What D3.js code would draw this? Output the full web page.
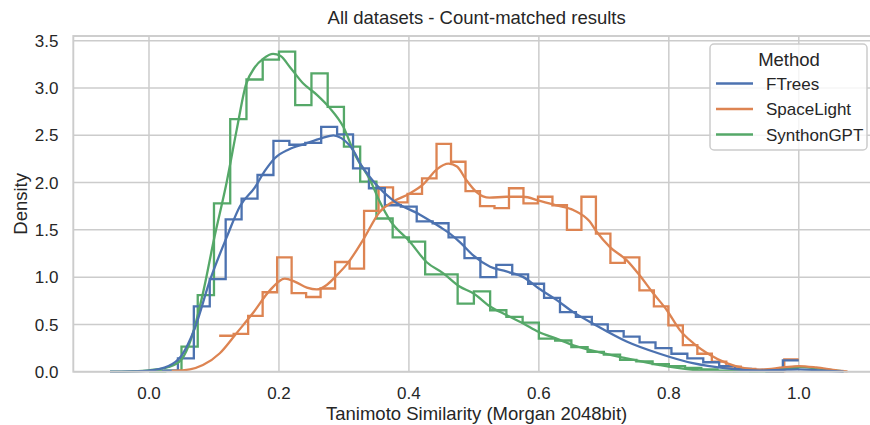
<!DOCTYPE html>
<meta charset="utf-8">
<style>
  body { margin: 0; background: #fff; }
  text { font-family: "Liberation Sans", Arial, sans-serif; fill: #262626; }
</style>

<svg width="870" height="425"></svg>

<script src="https://d3js.org/d3.v7.min.js"></script>
<script>

var methods = ["FTrees", "SpaceLight", "SynthonGPT"]
var colors = ["#4c72b0", "#dd8452", "#55a868"]

// each method got its own 40 bins
var binStarts = [0.02, 0.108, 0.0]
var binWidths = [0.0245, 0.0223, 0.025]

var ftreesHist = [0.01, 0.14, 0.69, 0.98, 1.61, 1.83, 2.08, 2.44, 2.40, 2.42,
  2.59, 2.51, 2.15, 1.94, 1.76, 1.745, 1.59, 1.57, 1.42, 1.20,
  1.00, 1.13, 1.03, 0.93, 0.78, 0.63, 0.58, 0.50, 0.43, 0.37,
  0.31, 0.25, 0.19, 0.14, 0.10, 0.06, 0.03, 0.02, 0.005, 0.12]

var spacelightHist = [0.38, 0.40, 0.59, 0.84, 1.21, 0.83, 0.79, 0.88, 1.16, 1.09,
  1.70, 1.95, 1.79, 1.88, 2.045, 2.41, 2.22, 1.91, 1.75, 1.73,
  1.94, 1.78, 1.85, 1.76, 1.50, 1.85, 1.46, 1.15, 1.21, 0.86,
  0.69, 0.49, 0.28, 0.19, 0.106, 0.053, 0.03, 0.015, 0.005, 0.13]

var synthonHist = [0.005, 0.01, 0.265, 0.81, 1.78, 2.67, 3.09, 3.30, 3.385, 2.82,
  3.155, 2.80, 2.38, 2.01, 1.62, 1.42, 1.375, 1.03, 1.03, 0.72,
  0.85, 0.65, 0.58, 0.52, 0.35, 0.33, 0.26, 0.21, 0.18, 0.125,
  0.11, 0.08, 0.06, 0.04, 0.025, 0.012, 0.006, 0.003, 0.0, 0.04]

// kde curves, [similarity, density]
var ftreesKde = [[-0.06, 0], [-0.03, 0.003], [0.0, 0.012], [0.03, 0.06], [0.05, 0.17],
  [0.07, 0.45], [0.094, 0.97], [0.12, 1.43], [0.14, 1.75], [0.163, 1.95], [0.178, 2.12],
  [0.194, 2.26], [0.215, 2.35], [0.24, 2.41], [0.266, 2.47], [0.284, 2.50], [0.296, 2.47],
  [0.317, 2.31], [0.325, 2.20], [0.332, 2.13], [0.348, 1.99], [0.376, 1.81], [0.417, 1.66],
  [0.448, 1.53], [0.463, 1.46], [0.48, 1.36], [0.499, 1.23], [0.525, 1.11], [0.55, 1.06],
  [0.576, 1.00], [0.6, 0.88], [0.627, 0.76], [0.653, 0.63], [0.683, 0.51], [0.735, 0.32],
  [0.786, 0.19], [0.837, 0.09], [0.889, 0.036], [0.94, 0.012], [0.975, 0.02], [1.0, 0.025],
  [1.03, 0.015], [1.069, 0]]

var spacelightKde = [[0.035, 0.008], [0.063, 0.025], [0.083, 0.07], [0.109, 0.195],
  [0.135, 0.41], [0.16, 0.62], [0.186, 0.86], [0.209, 0.985], [0.225, 0.95], [0.243, 0.89],
  [0.258, 0.87], [0.274, 0.92], [0.289, 1.02], [0.305, 1.14], [0.33, 1.40], [0.355, 1.69],
  [0.376, 1.80], [0.40, 1.88], [0.422, 1.98], [0.443, 2.14], [0.461, 2.20], [0.474, 2.17],
  [0.488, 2.03], [0.504, 1.90], [0.524, 1.84], [0.55, 1.85], [0.576, 1.85], [0.60, 1.81],
  [0.627, 1.76], [0.653, 1.71], [0.678, 1.59], [0.689, 1.48], [0.709, 1.32], [0.735, 1.18],
  [0.755, 1.02], [0.776, 0.83], [0.797, 0.65], [0.817, 0.44], [0.838, 0.30], [0.863, 0.18],
  [0.889, 0.09], [0.914, 0.04], [0.94, 0.022], [0.976, 0.045], [1.0, 0.06], [1.027, 0.045],
  [1.06, 0.012], [1.075, 0.004]]

var synthonKde = [[-0.06, 0], [-0.03, 0.004], [0.0, 0.015], [0.03, 0.05], [0.05, 0.13],
  [0.065, 0.35], [0.084, 0.86], [0.1, 1.4], [0.12, 2.02], [0.135, 2.56], [0.149, 3.03],
  [0.163, 3.22], [0.176, 3.31], [0.191, 3.36], [0.202, 3.34], [0.217, 3.22], [0.237, 3.05],
  [0.258, 2.93], [0.278, 2.79], [0.299, 2.59], [0.318, 2.28], [0.34, 2.03], [0.355, 1.80],
  [0.371, 1.60], [0.4015, 1.375], [0.427, 1.16], [0.453, 1.04], [0.478, 0.90], [0.499, 0.83],
  [0.525, 0.69], [0.55, 0.60], [0.576, 0.51], [0.60, 0.42], [0.627, 0.35], [0.653, 0.28],
  [0.678, 0.23], [0.735, 0.14], [0.786, 0.07], [0.837, 0.02], [0.889, 0.005], [0.94, 0.008],
  [0.976, 0.035], [0.996, 0.05], [1.027, 0.035], [1.069, 0.004]]

var xTicks = [0.0, 0.2, 0.4, 0.6, 0.8, 1.0]
var yTicks = [0.0, 0.5, 1.0, 1.5, 2.0, 2.5, 3.0, 3.5]

var hists = [ftreesHist, spacelightHist, synthonHist]
var kdes = [ftreesKde, spacelightKde, synthonKde]

var svg = d3.select('svg')

var plotLeft = 73.3, plotRight = 880, plotTop = 36, plotBottom = 371.7

var x = d3.scaleLinear().domain([-0.1165, 1.125]).range([plotLeft, plotRight])
var y = d3.scaleLinear().domain([0, 3.55]).range([plotBottom, plotTop])

// grid
var grid = svg.append('g')
grid.selectAll('line.gx').data(xTicks).enter().append('line')
  .attr('x1', function (d) { return x(d) }).attr('x2', function (d) { return x(d) })
  .attr('y1', plotTop).attr('y2', plotBottom)
  .attr('stroke', '#cccccc').attr('stroke-width', 1.5)
grid.selectAll('line.gy').data(yTicks).enter().append('line')
  .attr('x1', plotLeft).attr('x2', plotRight)
  .attr('y1', function (d) { return y(d) }).attr('y2', function (d) { return y(d) })
  .attr('stroke', '#cccccc').attr('stroke-width', 1.5)

// step outlines (steps-post, last height repeated at the end edge)
var stepLine = d3.line()
  .x(function (d) { return x(d[0]) })
  .y(function (d) { return y(d[1]) })
  .curve(d3.curveStepAfter)

var kdeLine = d3.line()
  .x(function (d) { return x(d[0]) })
  .y(function (d) { return y(d[1]) })
  .curve(d3.curveMonotoneX)

var order = [2, 1, 0]

order.forEach(function (i) {
  var h = hists[i]
  var pts = h.map(function (v, k) { return [binStarts[i] + k * binWidths[i], v] })
  pts.push([binStarts[i] + h.length * binWidths[i], h[h.length - 1]])
  svg.append('path')
    .attr('d', stepLine(pts))
    .attr('fill', 'none')
    .attr('stroke', colors[i])
    .attr('stroke-width', 2.3)
})

order.forEach(function (i) {
  svg.append('path')
    .attr('d', kdeLine(kdes[i]))
    .attr('fill', 'none')
    .attr('stroke', colors[i])
    .attr('stroke-width', 2.3)
    .attr('stroke-linejoin', 'round')
})

// spines
svg.append('rect')
  .attr('x', plotLeft).attr('y', plotTop)
  .attr('width', plotRight - plotLeft).attr('height', plotBottom - plotTop)
  .attr('fill', 'none')
  .attr('stroke', '#cccccc').attr('stroke-width', 1.9)

// tick labels
svg.append('g').selectAll('text').data(xTicks).enter().append('text')
  .attr('x', function (d) { return x(d) })
  .attr('y', 399)
  .attr('text-anchor', 'middle')
  .attr('font-size', 17)
  .text(function (d) { return d3.format('.1f')(d) })

svg.append('g').selectAll('text').data(yTicks).enter().append('text')
  .attr('x', 58.5)
  .attr('y', function (d) { return y(d) })
  .attr('dy', '0.36em')
  .attr('text-anchor', 'end')
  .attr('font-size', 17)
  .text(function (d) { return d3.format('.1f')(d) })

// labels and title
svg.append('text')
  .attr('x', (plotLeft + plotRight) / 2).attr('y', 420)
  .attr('text-anchor', 'middle').attr('font-size', 18.5)
  .text('Tanimoto Similarity (Morgan 2048bit)')

svg.append('text')
  .attr('transform', 'translate(26.5,' + (plotTop + plotBottom) / 2 + ') rotate(-90)')
  .attr('text-anchor', 'middle').attr('font-size', 18.5)
  .text('Density')

svg.append('text')
  .attr('x', (plotLeft + plotRight) / 2).attr('y', 24)
  .attr('text-anchor', 'middle').attr('font-size', 18.5)
  .text('All datasets - Count-matched results')

// legend
var legend = svg.append('g')
legend.append('rect')
  .attr('x', 710).attr('y', 44).attr('width', 157).attr('height', 106)
  .attr('rx', 4)
  .attr('fill', 'white').attr('fill-opacity', 0.8)
  .attr('stroke', '#cccccc').attr('stroke-width', 1.5)

legend.append('text')
  .attr('x', 789).attr('y', 65.5)
  .attr('text-anchor', 'middle').attr('font-size', 18.5)
  .text('Method')

methods.forEach(function (m, i) {
  var ly = 83.5 + i * 25.5
  legend.append('line')
    .attr('x1', 716).attr('x2', 753)
    .attr('y1', ly).attr('y2', ly)
    .attr('stroke', colors[i]).attr('stroke-width', 2.3)
  legend.append('text')
    .attr('x', 766).attr('y', ly + 6)
    .attr('font-size', 17)
    .text(m)
})

</script>
